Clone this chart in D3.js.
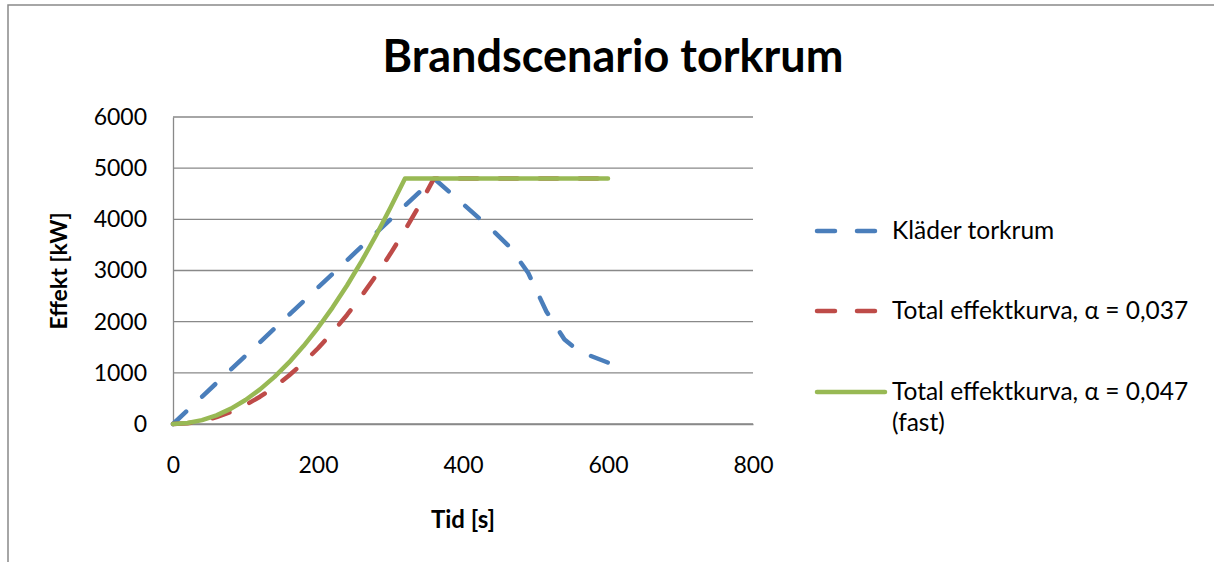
<!DOCTYPE html>
<html>
<head>
<meta charset="utf-8">
<script src="https://cdn.jsdelivr.net/npm/d3@7"></script>
<style>
  body { margin: 0; background: #fff; }
  svg { display: block; font-family: Lato, "Open Sans", sans-serif; }
</style>
</head>
<body>
<svg id="chart" width="1214" height="562"></svg>
<script>
// Data
const xTicks = [0, 200, 400, 600, 800];
const yTicks = [0, 1000, 2000, 3000, 4000, 5000, 6000];

// Kläder torkrum [t (s), effekt (kW)]
const kladerTorkrum = [
	[0, 0], [60, 800], [120, 1600], [180, 2400], [240, 3200], [300, 4000], [360, 4800],
	[400, 4300], [440, 3800], [465, 3450], [490, 2950], [515, 2200], [540, 1650],
	[560, 1420], [600, 1200]
];

// Total effektkurva, alpha = 0,037
const totalSlow = [
	[0, 0], [20, 15], [40, 59], [60, 133], [80, 237], [100, 370], [120, 533], [140, 725],
	[160, 947], [180, 1199], [200, 1480], [220, 1791], [240, 2131], [260, 2501],
	[280, 2901], [300, 3330], [320, 3789], [340, 4277], [360, 4800], [600, 4800]
];

// Total effektkurva, alpha = 0,047 (fast)
const totalFast = [
	[0, 0], [20, 19], [40, 75], [60, 169], [80, 301], [100, 470], [120, 677], [140, 921],
	[160, 1203], [180, 1523], [200, 1880], [220, 2275], [240, 2707], [260, 3177],
	[280, 3685], [300, 4230], [320, 4800], [600, 4800]
];

const seriesNames = ['Kläder torkrum', 'Total effektkurva, α = 0,037', 'Total effektkurva, α = 0,047'];
const seriesColors = ['#4a7ebb', '#be4b48', '#98b954'];

const svg = d3.select('#chart');
const grey = '#898989';

// outer frame
svg.append('rect')
	.attr('x', 8).attr('y', 5)
	.attr('width', 1230).attr('height', 600)
	.attr('fill', 'none').attr('stroke', grey).attr('stroke-width', 1.5);

const x = d3.scaleLinear().domain([0, 800]).range([173, 753]);
const y = d3.scaleLinear().domain([0, 6000]).range([424, 117]);

// gridlines
svg.append('g')
	.selectAll('line')
	.data(yTicks)
	.join('line')
	.attr('x1', x(0)).attr('x2', x(800))
	.attr('y1', d => y(d)).attr('y2', d => y(d))
	.attr('stroke', grey).attr('stroke-width', 1.3);

// y axis
const yAxis = svg.append('g')
	.attr('transform', `translate(${x(0)},0)`)
	.call(d3.axisLeft(y).tickValues(yTicks).tickSize(0).tickPadding(26).tickFormat(d3.format('d')));
yAxis.select('.domain').attr('stroke', grey).attr('stroke-width', 1.3);
yAxis.selectAll('text').attr('font-size', 23).attr('fill', '#000').attr('font-family', 'Lato');

// x axis
const xAxis = svg.append('g')
	.attr('transform', `translate(0,${y(0)})`)
	.call(d3.axisBottom(x).tickValues(xTicks).tickSize(0).tickPadding(33).tickFormat(d3.format('d')));
xAxis.select('.domain').attr('stroke', grey).attr('stroke-width', 1.3);
xAxis.selectAll('text').attr('font-size', 23).attr('fill', '#000').attr('font-family', 'Lato');

// series
const line = d3.line().x(d => x(d[0])).y(d => y(d[1]));
const allSeries = [kladerTorkrum, totalSlow, totalFast];
const dashes = ['18,22', '18,22', null];

allSeries.forEach((s, i) => {
	svg.append('path')
		.datum(s)
		.attr('d', line)
		.attr('fill', 'none')
		.attr('stroke', seriesColors[i])
		.attr('stroke-width', 4.5)
		.attr('stroke-linecap', 'round')
		.attr('stroke-linejoin', 'round')
		.attr('stroke-dasharray', dashes[i]);
});

// title
svg.append('text')
	.attr('x', 613).attr('y', 72)
	.attr('text-anchor', 'middle')
	.attr('font-size', 45).attr('font-weight', 'bold')
	.text('Brandscenario torkrum');

// axis titles
svg.append('text')
	.attr('x', 463).attr('y', 528)
	.attr('text-anchor', 'middle')
	.attr('font-size', 24).attr('font-weight', 'bold')
	.text('Tid [s]');

svg.append('text')
	.attr('transform', 'translate(67,271) rotate(-90)')
	.attr('text-anchor', 'middle')
	.attr('font-size', 23).attr('font-weight', 'bold')
	.text('Effekt [kW]');

// legend
const legendRows = [231, 311, 392];
const legend = svg.append('g');
seriesNames.forEach((name, i) => {
	legend.append('line')
		.attr('x1', 817).attr('x2', 885)
		.attr('y1', legendRows[i]).attr('y2', legendRows[i])
		.attr('stroke', seriesColors[i])
		.attr('stroke-width', 4.5)
		.attr('stroke-linecap', 'round')
		.attr('stroke-dasharray', dashes[i]);
	legend.append('text')
		.attr('x', 892).attr('y', legendRows[i] + 8)
		.attr('font-size', 24.5)
		.text(name);
});
legend.append('text')
	.attr('x', 892).attr('y', legendRows[2] + 39)
	.attr('font-size', 24.5)
	.text('(fast)');
</script>
</body>
</html>
